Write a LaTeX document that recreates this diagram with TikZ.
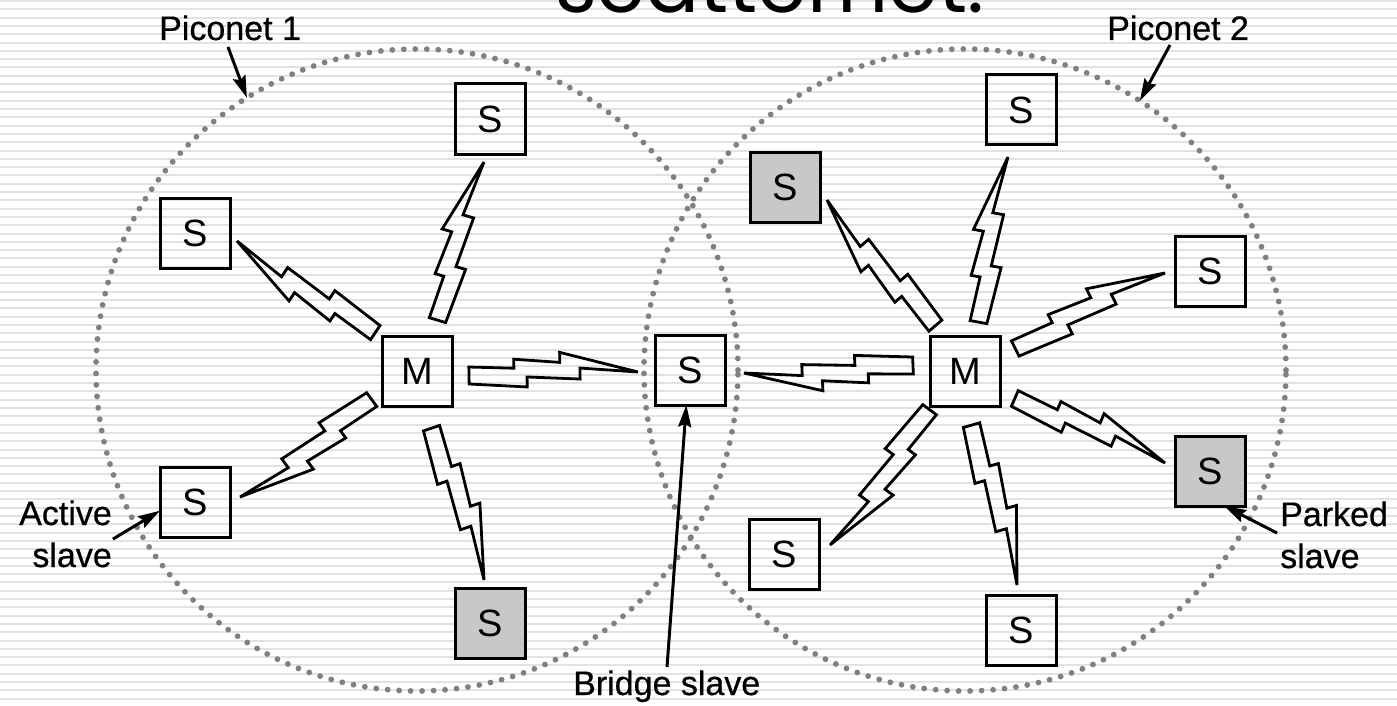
\documentclass[tikz,border=0pt]{standalone}
\usepackage{fontspec}
\setmainfont{Liberation Sans}
\newfontfamily\titlefont{Poppins}
\newfontfamily\capfont[FakeBold=0.6]{Liberation Sans}
\usetikzlibrary{calc,arrows.meta}

\definecolor{stripecol}{RGB}{226,226,226}
\definecolor{dotcol}{RGB}{128,128,128}
\definecolor{parkfill}{RGB}{200,200,200}

\tikzset{
  stripe/.style={stripecol, line width=2pt},
  piconet/.style={circle, draw=dotcol, line width=5.8pt, dash pattern=on 0pt off 11.5pt,
    line cap=round, minimum size=642pt, inner sep=0pt, outer sep=0pt},
  station/.style={draw=black, line width=3pt, minimum width=70pt, minimum height=70pt,
    inner sep=0pt, outer sep=0pt, font=\fontsize{38}{38}\selectfont},
  parked/.style={station, fill=parkfill},
  lbl/.style={inner sep=0pt, font=\capfont\fontsize{34}{42}\selectfont},
  pointer/.style={line width=3pt, -{Stealth[length=22pt,width=13pt,inset=3pt]}},
  bolt/.style={line width=2.8pt, line join=miter},
}

% zig-zag radio link from the flat end #1 to the pointed end #2
\newcommand\radiolink[2]{%
  \path let \p1=($(#2)-(#1)$) in
    \pgfextra{\pgfmathparse{atan2(\y1,\x1)}\xdef\lkang{\pgfmathresult}%
              \pgfmathparse{veclen(\x1,\y1)/169}\xdef\lkscl{\pgfmathresult}};
  \draw[bolt, shift={(#1)}, rotate=\lkang, xscale=\lkscl]
    (0pt,8pt) -- (45pt,6pt) -- (45pt,15pt) -- (91pt,11pt) -- (91pt,21pt) -- (169pt,0pt)
    -- (111pt,5pt) -- (111pt,-6pt) -- (58pt,-3pt) -- (58pt,-13pt) -- (0pt,-9pt) -- cycle;
}

\begin{document}
\begin{tikzpicture}[x=1pt, y=-1pt]
  \useasboundingbox (0,0) rectangle (1397,706);
  \clip (0,0) rectangle (1397,706);
  \fill[white] (0,0) rectangle (1397,706);

  % ruled background
  \foreach \k in {0,...,85}
    \draw[stripe] (0,{1+8.306*\k}) -- (1397,{1+8.306*\k});

  % slide title, cut by the top edge
  \node[anchor=base west, inner sep=0pt, font=\titlefont\fontsize{80}{80}\selectfont]
    (title) at (555,12.5) {scatternet:};

  % piconet boundaries
  \node[piconet] (pn1) at (417,370) {};
  \node[piconet] (pn2) at (965,370) {};

  % stations of piconet 1
  \node[station] (M1)  at (417,371) {M};
  \node[station] (S1a) at (490,119) {S};
  \node[station] (S1b) at (195,233) {S};
  \node[station] (S1c) at (195,502) {S};
  \node[parked]  (S1d) at (490,623) {S};
  % shared station
  \node[station] (B)   at (690,370) {S};
  % stations of piconet 2
  \node[station] (M2)  at (965,371) {M};
  \node[station] (S2a) at (1021,110) {S};
  \node[parked]  (S2b) at (785,187) {S};
  \node[station] (S2c) at (1210,271) {S};
  \node[parked]  (S2d) at (1210,471) {S};
  \node[station] (S2e) at (784,554) {S};
  \node[station] (S2f) at (1021,630) {S};

  % ends of the radio links (flat end at the master, point at the slave)
  \coordinate (l1b) at (437,320);  \coordinate (l1t) at (484,162);
  \coordinate (l2b) at (375,333);  \coordinate (l2t) at (237,241);
  \coordinate (l3b) at (372,400);  \coordinate (l3t) at (240,497);
  \coordinate (l4b) at (432,428);  \coordinate (l4t) at (484,580);
  \coordinate (l5b) at (469,375);  \coordinate (l5t) at (638,372);
  \coordinate (l6b) at (913,366);  \coordinate (l6t) at (744,373);
  \coordinate (l7b) at (978,322);  \coordinate (l7t) at (1008,157);
  \coordinate (l8b) at (935,326);  \coordinate (l8t) at (827,200);
  \coordinate (l9b) at (1015,348); \coordinate (l9t) at (1165,273);
  \coordinate (l10b) at (1015,398); \coordinate (l10t) at (1165,463);
  \coordinate (l11b) at (930,410); \coordinate (l11t) at (830,545);
  \coordinate (l12b) at (972,425); \coordinate (l12t) at (1017,585);

  \foreach \i in {1,...,12} { \radiolink{l\i b}{l\i t} }

  % captions
  \node[lbl, anchor=base west] (cap1) at (159,40) {Piconet 1};
  \node[lbl, anchor=base west] (cap2) at (1107,40) {Piconet 2};
  \node[lbl, anchor=base east, align=right] (capA) at (112,567) {Active\\slave};
  \node[lbl, anchor=base west, align=left] (capP) at (1280,568) {Parked\\slave};
  \node[lbl, anchor=base west] (capB) at (573,695) {Bridge slave};

  % caption pointers
  \coordinate (p1) at (228,47);
  \coordinate (p2) at (1170,45);
  \coordinate (pA) at (113,539);
  \coordinate (pP) at (1277,533);
  \coordinate (pB) at (667,667);
  \draw[pointer] (p1) -- (pn1.122.7);
  \draw[pointer] (p2) -- (pn2.57.5);
  \draw[pointer] (pA) -- (S1c.194);
  \draw[pointer] (pP) -- (S2d.-68);
  \draw[pointer] (pB) -- (B.-96);
\end{tikzpicture}
\end{document}
